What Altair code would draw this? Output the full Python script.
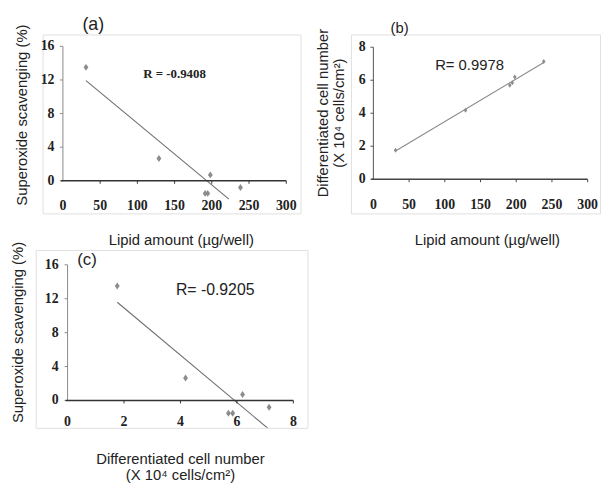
import altair as alt
import pandas as pd

# ---- data ----
lipid = [31, 129, 191, 194.5, 198, 238.5]          # µg/well
scavenging = [13.5, 2.65, -1.5, -1.5, 0.7, -0.8]    # %
cells = [1.76, 4.18, 5.7, 5.85, 6.2, 7.14]          # x10^4 cells/cm2

lipid_ticks = [0, 50, 100, 150, 200, 250, 300]
scav_ticks = [0, 4, 8, 12, 16]
cell_ticks = [0, 2, 4, 6, 8]

r_texts = ["R = -0.9408", "R= 0.9978", "R= -0.9205"]
panel_labels = ["(a)", "(b)", "(c)"]
title_lipid = "Lipid amount (µg/well)"
title_scav = "Superoxide scavenging (%)"
title_cells = ["Differentiated cell number", "(X 10⁴ cells/cm²)"]

df = pd.DataFrame({"lipid": lipid, "scav": scavenging, "cells": cells})

SANS = "Liberation Sans"
SERIF = "Liberation Serif"
DIAMOND = "M0,-1L0.7,0L0,1L-0.7,0Z"
TXT = "#222222"


def panel(xf, yf, c):
    xs = alt.Scale(domain=c["xdom"], nice=False, zero=False)
    ys = alt.Scale(domain=c["ydom"], nice=False, zero=False)
    w, h = c["w"], c["h"]
    tlx = 3 * (c["xdom"][1] - c["xdom"][0]) / w
    tly = 3 * (c["ydom"][1] - c["ydom"][0]) / h

    xax = alt.Axis(title=c["xtitle"], domain=False, ticks=False, labels=False, grid=False,
                   titleX=c["xtitle_x"], titleY=c["xtitle_y"], titleAngle=0,
                   titleAlign="center", titleBaseline="alphabetic", titleFont=SANS,
                   titleFontSize=15, titleFontWeight="normal", titleColor=TXT,
                   titleLineHeight=16)
    yax = alt.Axis(title=c["ytitle"], domain=False, ticks=False, labels=False, grid=False,
                   titleX=c["ytitle_x"], titleY=c["ytitle_y"], titleAngle=270,
                   titleAlign="center", titleBaseline="bottom", titleFont=SANS,
                   titleFontSize=15, titleFontWeight="normal", titleColor=TXT,
                   titleLineHeight=16)

    def X(f, **kw):
        return alt.X(f, type="quantitative", scale=xs, axis=xax, **kw)

    def Y(f, **kw):
        return alt.Y(f, type="quantitative", scale=ys, axis=yax, **kw)

    xt, yt = c["xticks"], c["yticks"]

    yaxis = alt.Chart(pd.DataFrame({"x": [0], "y": [0], "y2": [yt[-1]]})).mark_rule(
        color=c["ycolor"], strokeWidth=1).encode(x=X("x"), y=Y("y"), y2="y2")
    xaxis = alt.Chart(pd.DataFrame({"x": [-tlx * 0.7], "x2": [xt[-1]], "y": [0]})).mark_rule(
        color=c["xcolor"], strokeWidth=1.6).encode(x=X("x"), x2="x2", y=Y("y"))
    yticks = alt.Chart(pd.DataFrame({"x": [0] * len(yt), "x2": [-tlx] * len(yt), "y": yt})).mark_rule(
        color=c["ycolor"], strokeWidth=1).encode(x=X("x"), x2="x2", y=Y("y"))
    xticks = alt.Chart(pd.DataFrame({"x": xt[1:], "y": [0] * (len(xt) - 1), "y2": [-tly] * (len(xt) - 1)})).mark_rule(
        color=c["xcolor"], strokeWidth=1).encode(x=X("x"), y=Y("y"), y2="y2")
    ylabels = alt.Chart(pd.DataFrame({"x": [0] * len(yt), "y": yt, "t": yt})).mark_text(
        align="right", baseline="middle", dx=-c["ylab_dx"], font=SERIF, fontWeight="bold",
        fontSize=14, color=TXT).encode(x=X("x"), y=Y("y"), text=alt.Text("t:Q", format="d"))
    xlabels = alt.Chart(pd.DataFrame({"x": xt, "t": xt})).mark_text(
        align="center", baseline="alphabetic", font=SERIF, fontWeight="bold",
        fontSize=14, color=TXT).encode(x=X("x"), y=alt.value(c["xlab_y"]),
                                       text=alt.Text("t:Q", format="d"))

    trend = alt.Chart(df).transform_regression(xf, yf, extent=c["extent"]).mark_line(
        color=c["lcolor"], strokeWidth=1.1, clip=True).encode(x=X(xf), y=Y(yf))

    points = alt.Chart(df).mark_point(shape=DIAMOND, filled=True, size=c["msize"],
                                      color=c["mcolor"], opacity=1).encode(x=X(xf), y=Y(yf))

    rtext = alt.Chart(pd.DataFrame({"x": [c["rx"]], "y": [c["ry"]], "t": [c["rtext"]]})).mark_text(
        align="center", baseline="alphabetic", font=c["rfont"], fontWeight=c["rweight"],
        fontSize=c["rsize"], color=TXT).encode(x=X("x"), y=Y("y"), text="t:N")

    label = alt.Chart(pd.DataFrame({"t": [c["label"]]})).mark_text(
        align="left", baseline="alphabetic", font=SANS, fontSize=c["lsize"], color=TXT).encode(
        x=alt.value(c["lx"]), y=alt.value(c["ly"]), text="t:N")

    layers = [yaxis, yticks, ylabels, xlabels, trend, xaxis, xticks, points, rtext, label]

    # invisible anchor that fixes the outer bounds of the whole figure
    if "anchor" in c:
        ax_, ay_ = c["anchor"]
        layers.append(alt.Chart(pd.DataFrame({"t": [0]})).mark_rule(opacity=0, strokeWidth=1).encode(
            x=alt.value(ax_), x2=alt.value(ax_ + 1), y=alt.value(ay_), y2=alt.value(ay_ + 1)))

    return alt.layer(*layers).properties(width=w, height=h)


A = dict(w=261, h=181, xdom=[-27.3, 319.2], ydom=[-3.88, 17.41], xticks=lipid_ticks, yticks=scav_ticks,
         ycolor="#8a8a8a", xcolor="#333333", xlab_y=178, ylab_dx=8.5,
         xtitle=title_lipid, xtitle_x=139.8, xtitle_y=31, ytitle=title_scav, ytitle_x=-13, ytitle_y=81,
         label=panel_labels[0], lx=40.3, ly=-4.8, lsize=18,
         rx=150, ry=12.2, rtext=r_texts[0], rfont=SERIF, rweight="bold", rsize=13,
         extent=[31, 223], msize=49, mcolor="#8c8c8c", lcolor="#6e6e6e",
         anchor=(20, -23.5))

B = dict(w=252, h=181, xdom=[-31.4, 317.3], ydom=[-2.07, 8.77], xticks=lipid_ticks, yticks=cell_ticks,
         ycolor="#555555", xcolor="#444444", xlab_y=177, ylab_dx=7.7,
         xtitle=title_lipid, xtitle_x=137.5, xtitle_y=31, ytitle=title_cells, ytitle_x=-21, ytitle_y=79,
         label=panel_labels[1], lx=40, ly=-1.1, lsize=15,
         rx=134.6, ry=6.63, rtext=r_texts[1], rfont=SANS, rweight="normal", rsize=15,
         extent=[31, 238.5], msize=25, mcolor="#8c8c8c", lcolor="#8a8a8a")

C = dict(w=275, h=180, xdom=[-1.13, 8.5], ydom=[-3.23, 17.75], xticks=cell_ticks, yticks=scav_ticks,
         ycolor="#8a8a8a", xcolor="#333333", xlab_y=178.3, ylab_dx=9,
         xtitle=title_cells, xtitle_x=146, xtitle_y=36, ytitle=title_scav, ytitle_x=-10, ytitle_y=83,
         label=panel_labels[2], lx=42, ly=15.4, lsize=17,
         rx=5.23, ry=12.39, rtext=r_texts[2], rfont=SANS, rweight="normal", rsize=16,
         extent=[1.76, 7.14], msize=49, mcolor="#8c8c8c", lcolor="#6e6e6e",
         anchor=(-27.5, 90))

pa = panel("lipid", "scav", A)
pb = panel("lipid", "cells", B)
pc = panel("cells", "scav", C)

chart = alt.concat(pa, pb, pc, columns=2, spacing={"row": 37, "column": 44},
                   bounds="flush", center=True).properties(
    padding={"left": 0, "top": 0, "right": 0, "bottom": 0}
).configure_view(stroke="#e0e0e0", strokeWidth=1)

chart.save("out.html", embed_options={"renderer": "svg", "actions": False})
